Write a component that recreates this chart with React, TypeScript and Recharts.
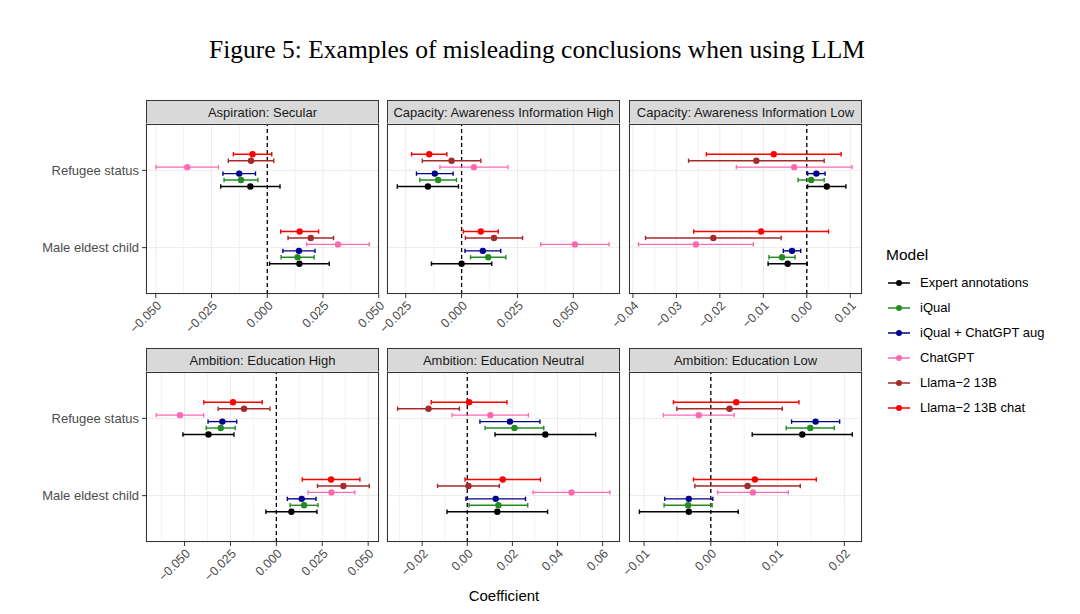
import React from "react";
import { ScatterChart, Scatter, XAxis, YAxis, CartesianGrid, ReferenceLine, ErrorBar } from "recharts";

const models = [
  "Expert annotations",
  "iQual",
  "iQual + ChatGPT aug",
  "ChatGPT",
  "Llama\u22122 13B",
  "Llama\u22122 13B chat",
];
const colors = ["#000000", "#228B22", "#00008B", "#FF69B4", "#A52A2A", "#FF0000"];
const variables = ["Male eldest child", "Refugee status"];

const panelTitles = [
  "Aspiration: Secular",
  "Capacity: Awareness Information High",
  "Capacity: Awareness Information Low",
  "Ambition: Education High",
  "Ambition: Education Neutral",
  "Ambition: Education Low",
];

// point estimates per panel, models in legend order
const refugeeEst = [
  [-0.0076, -0.0118, -0.0126, -0.0359, -0.0073, -0.0066],
  [-0.0151, -0.0105, -0.012, 0.0055, -0.0045, -0.0145],
  [0.0046, 0.001, 0.0022, -0.0029, -0.0116, -0.0076],
  [-0.037, -0.0303, -0.0294, -0.0525, -0.0176, -0.0236],
  [0.0346, 0.0209, 0.0189, 0.0102, -0.0172, 0.0008],
  [0.0137, 0.0149, 0.0157, -0.0018, 0.0028, 0.0038],
];
const refugeeCi = [
  [0.0133, 0.0076, 0.0073, 0.014, 0.0102, 0.0086],
  [0.0137, 0.0082, 0.0082, 0.0152, 0.0131, 0.0079],
  [0.0044, 0.003, 0.002, 0.0133, 0.0156, 0.0155],
  [0.0139, 0.0079, 0.0078, 0.0129, 0.0141, 0.0159],
  [0.0223, 0.013, 0.0133, 0.0169, 0.0137, 0.0168],
  [0.0075, 0.0036, 0.0036, 0.0053, 0.0079, 0.0094],
];
const maleEst = [
  [0.0144, 0.0136, 0.0142, 0.0317, 0.0195, 0.0145],
  [0.0, 0.0119, 0.0095, 0.0507, 0.0145, 0.0086],
  [-0.0044, -0.0057, -0.0034, -0.0255, -0.0215, -0.0105],
  [0.0082, 0.0151, 0.0138, 0.03, 0.0365, 0.0298],
  [0.0133, 0.0138, 0.0126, 0.0462, 0.0005, 0.0157],
  [-0.0033, -0.0034, -0.0033, 0.0063, 0.0055, 0.0066],
];
const maleCi = [
  [0.0134, 0.0074, 0.0072, 0.014, 0.0102, 0.0085],
  [0.0135, 0.0079, 0.008, 0.0153, 0.0128, 0.0078],
  [0.0045, 0.003, 0.002, 0.0132, 0.0156, 0.0155],
  [0.0139, 0.0076, 0.0078, 0.0127, 0.0141, 0.0157],
  [0.0223, 0.013, 0.0132, 0.017, 0.0137, 0.0167],
  [0.0074, 0.0036, 0.0036, 0.0053, 0.0079, 0.0092],
];

const xDomains = [
  [-0.0544, 0.0501],
  [-0.0334, 0.0709],
  [-0.0409, 0.0127],
  [-0.071, 0.0559],
  [-0.0356, 0.0677],
  [-0.01226, 0.02265],
];
const xTicks = [
  [-0.05, -0.025, 0, 0.025, 0.05],
  [-0.025, 0, 0.025, 0.05],
  [-0.04, -0.03, -0.02, -0.01, 0, 0.01],
  [-0.05, -0.025, 0, 0.025, 0.05],
  [-0.02, 0, 0.02, 0.04, 0.06],
  [-0.01, 0, 0.01, 0.02],
];
const tickDigits = [3, 3, 2, 3, 2, 2];

const FONT = "'Liberation Sans', Arial, sans-serif";
const colLeft = [146, 387, 629];
const rowTop = [124, 372];
const PLOT_W = 233;
const PLOT_H = 170;
const STRIP_H = 24;
const M = { top: 6, right: 20, bottom: 0, left: 45 };
const Y_W = 140;
const X_H = 60;
const DODGE = 0.5;

const dodge = (m: number) => (m - (models.length - 1) / 2) * (DODGE / models.length);

function minorLines(ticks: number[], domain: number[]) {
  const step = ticks[1] - ticks[0];
  const out: number[] = [];
  out.push(ticks[0] - step / 2);
  ticks.forEach((t) => out.push(t + step / 2));
  return out.filter((v) => v > domain[0] && v < domain[1]);
}

function XTick(props: any) {
  const { x, y, payload, digits } = props;
  const v = payload.value;
  const s = (v < -1e-9 ? "\u2212" : "") + Math.abs(v).toFixed(digits);
  return (
    <g transform={`translate(${x},${y})`}>
      <text x={0} y={0} dy="0.72em" textAnchor="end" transform="rotate(-45)" fill="#4D4D4D" fontSize={12.5} fontFamily={FONT}>
        {s}
      </text>
    </g>
  );
}

function YTick(props: any) {
  const { x, y, payload } = props;
  return (
    <text x={x} y={y} dy="0.36em" textAnchor="end" fill="#4D4D4D" fontSize={13} fontFamily={FONT}>
      {variables[payload.value - 1]}
    </text>
  );
}

function Panel({ p }: { p: number }) {
  const col = p % 3;
  const row = Math.floor(p / 3);
  const px = colLeft[col];
  const py = rowTop[row];
  const showY = col === 0;
  const yw = showY ? Y_W : 0;
  const chartW = M.left + yw + PLOT_W + M.right;
  const chartH = M.top + PLOT_H + X_H;

  const series = models.map((_, m) => [
    { x: maleEst[p][m], y: 1 + dodge(m), err: maleCi[p][m] },
    { x: refugeeEst[p][m], y: 2 + dodge(m), err: refugeeCi[p][m] },
  ]);

  return (
    <>
      <div
        style={{
          position: "absolute",
          left: px,
          top: py - STRIP_H,
          width: PLOT_W,
          height: STRIP_H + 1,
          boxSizing: "border-box",
          border: "1px solid #333333",
          background: "#D9D9D9",
          color: "#1A1A1A",
          fontSize: 13,
          fontFamily: FONT,
          display: "flex",
          alignItems: "center",
          justifyContent: "center",
          whiteSpace: "nowrap",
        }}
      >
        {panelTitles[p]}
      </div>
      <div style={{ position: "absolute", left: px - M.left - yw, top: py - M.top }}>
        <ScatterChart width={chartW} height={chartH} margin={M}>
          <CartesianGrid stroke="#EBEBEB" strokeWidth={1} />
          {minorLines(xTicks[p], xDomains[p]).map((v) => (
            <ReferenceLine key={v} x={v} stroke="#EEEEEE" strokeWidth={0.7} />
          ))}
          <XAxis
            type="number"
            dataKey="x"
            domain={xDomains[p]}
            ticks={xTicks[p]}
            interval={0}
            allowDataOverflow
            axisLine={false}
            tickLine={{ stroke: "#333333" }}
            tickSize={4}
            tickMargin={2}
            height={X_H}
            tick={<XTick digits={tickDigits[p]} />}
          />
          <YAxis
            type="number"
            dataKey="y"
            domain={[0.4, 2.6]}
            ticks={[1, 2]}
            interval={0}
            hide={!showY}
            width={Y_W}
            axisLine={false}
            tickLine={{ stroke: "#333333" }}
            tickSize={4}
            tickMargin={3}
            tick={<YTick />}
          />
          <ReferenceLine x={0} stroke="#000000" strokeWidth={1.3} strokeDasharray="4 3" />
          {series.map((data, m) => (
            <Scatter
              key={models[m]}
              data={data}
              fill={colors[m]}
              isAnimationActive={false}
              shape={(s: any) => <circle cx={s.cx} cy={s.cy} r={3.2} fill={colors[m]} />}
            >
              <ErrorBar dataKey="err" direction="x" width={2.2} stroke={colors[m]} strokeWidth={1.4} isAnimationActive={false} />
            </Scatter>
          ))}
        </ScatterChart>
      </div>
      <div
        style={{
          position: "absolute",
          left: px,
          top: py,
          width: PLOT_W,
          height: PLOT_H,
          boxSizing: "border-box",
          border: "1px solid #333333",
          pointerEvents: "none",
        }}
      />
    </>
  );
}

export default function App() {
  return (
    <div style={{ position: "absolute", left: 0, top: 0, width: 1080, height: 614, background: "#FFFFFF", fontFamily: FONT, overflow: "hidden" }}>
      <div
        style={{
          position: "absolute",
          left: 0,
          top: 36,
          width: 1074,
          textAlign: "center",
          fontFamily: "'Liberation Serif', 'DejaVu Serif', serif",
          fontSize: 25.5,
          lineHeight: "28px",
          color: "#000000",
          whiteSpace: "nowrap",
        }}
      >
        Figure 5: Examples of misleading conclusions when using LLM
      </div>

      {panelTitles.map((_, p) => (
        <Panel key={p} p={p} />
      ))}

      <div style={{ position: "absolute", left: 0, width: 1008, top: 587, textAlign: "center", fontSize: 15, lineHeight: "18px", color: "#000000" }}>
        Coefficient
      </div>

      <div style={{ position: "absolute", left: 886, top: 245, fontSize: 15.5, lineHeight: "20px", color: "#000000" }}>Model</div>
      {models.map((name, i) => (
        <div
          key={name}
          style={{ position: "absolute", left: 888, top: 273.5 + i * 25, height: 18, display: "flex", alignItems: "center", whiteSpace: "nowrap" }}
        >
          <svg width={22} height={18}>
            <line x1={0} x2={22} y1={9} y2={9} stroke={colors[i]} strokeWidth={1.5} />
            <circle cx={11} cy={9} r={3} fill={colors[i]} />
          </svg>
          <span style={{ marginLeft: 10, fontSize: 13, color: "#000000" }}>{name}</span>
        </div>
      ))}
    </div>
  );
}
